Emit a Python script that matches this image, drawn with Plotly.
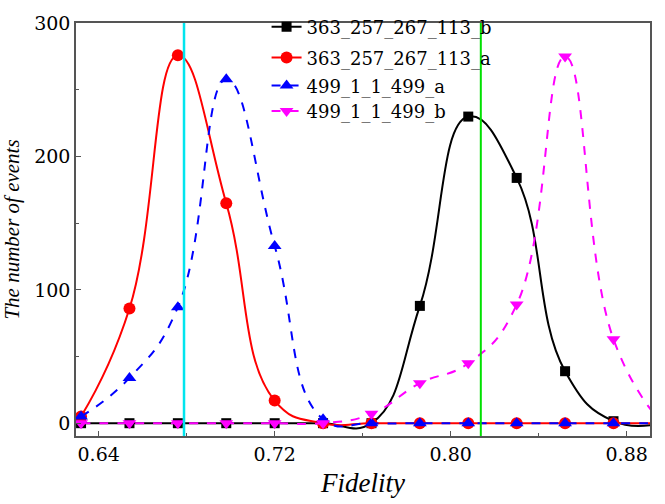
import plotly.graph_objects as go

# Fidelity bin centres (last one lies just beyond the visible range)
fidelity = [0.632, 0.654, 0.676, 0.698, 0.720, 0.742, 0.764, 0.786, 0.808, 0.830, 0.852, 0.874, 0.896]

b_363 = [0, 0, 0, 0, 0, 0, 0, 88, 230, 184, 39, 1.5, 0]
a_363 = [5, 86, 276, 165, 17, 0, 0, 0, 0, 0, 0, 0, 0]
a_499 = [5, 34, 87, 258, 133, 3, 0, 0, 0, 0, 0, 0, 0]
b_499 = [0, 0, 0, 0, 0, 0, 7, 30, 45, 89, 275, 63, 0]

names = ["363_257_267_113_b", "363_257_267_113_a", "499_1_1_499_a", "499_1_1_499_b"]

cyan_line_x = 0.6788
green_line_x = 0.8137

x_ticks = [0.64, 0.72, 0.80, 0.88]
x_tick_text = ["0.64", "0.72", "0.80", "0.88"]
y_ticks = [0, 100, 200, 300]

FONT_REG = "DejaVu Serif"
FONT_IT = "serif"

fig = go.Figure()

styles = [
    (b_363, "black", "square", "solid", 10),
    (a_363, "#ff0000", "circle", "solid", 12),
    (a_499, "#0000ff", "triangle-up", "dash", 12),
    (b_499, "#ff00ff", "triangle-down", "dash", 12),
]
legend_ids = ["legend", "legend2", "legend3", "legend4"]
legend_y = [0.99, 0.9155, 0.848, 0.786]

for name, (vals, col, sym, dash, ms), lid in zip(names, styles, legend_ids):
    fig.add_trace(go.Scatter(
        x=fidelity, y=vals, name=name, mode="lines+markers", legend=lid,
        line=dict(color=col, width=2, dash=dash, shape="spline", smoothing=1.3),
        marker=dict(symbol=sym, size=ms, color=col),
    ))

fig.add_vline(x=cyan_line_x, line=dict(color="#00e5ee", width=2.5))
fig.add_vline(x=green_line_x, line=dict(color="#00e000", width=2))

axis_common = dict(
    showline=True, linecolor="#555555", linewidth=1.5, mirror=True,
    ticks="inside", ticklen=5, tickcolor="#555555", tickwidth=1,
    showgrid=False, zeroline=False, automargin=False,
    tickfont=dict(family=FONT_REG, size=19, color="black"),
)

fig.update_xaxes(
    range=[0.6297, 0.8906], tickvals=x_ticks, ticktext=x_tick_text,
    minor=dict(ticks="inside", ticklen=3, dtick=0.04, tick0=0.64, tickcolor="#555555"),
    title=dict(text="<i>Fidelity</i>", font=dict(family=FONT_IT, size=27, color="black"), standoff=10),
    **axis_common,
)
fig.update_yaxes(
    range=[-9.6, 300.2], tickvals=y_ticks,
    minor=dict(ticks="inside", ticklen=3, dtick=50, tick0=0, tickcolor="#555555"),
    title=dict(text="<i>The number of events</i>", font=dict(family=FONT_IT, size=21, color="black"), standoff=20),
    **axis_common,
)

legend_common = dict(
    xanchor="left", yanchor="middle", x=0.332,
    bgcolor="rgba(0,0,0,0)", borderwidth=0,
    font=dict(family=FONT_REG, size=18, color="black"),
)

fig.update_layout(
    width=665, height=504,
    margin=dict(l=76, r=15, t=9, b=68),
    paper_bgcolor="white", plot_bgcolor="white",
    font=dict(family=FONT_REG, color="black"),
    showlegend=True,
    legend=dict(y=legend_y[0], **legend_common),
    legend2=dict(y=legend_y[1], **legend_common),
    legend3=dict(y=legend_y[2], **legend_common),
    legend4=dict(y=legend_y[3], **legend_common),
)

fig.write_html("out.html", config={"displayModeBar": False},
               post_script="document.body.style.margin='0px';")
